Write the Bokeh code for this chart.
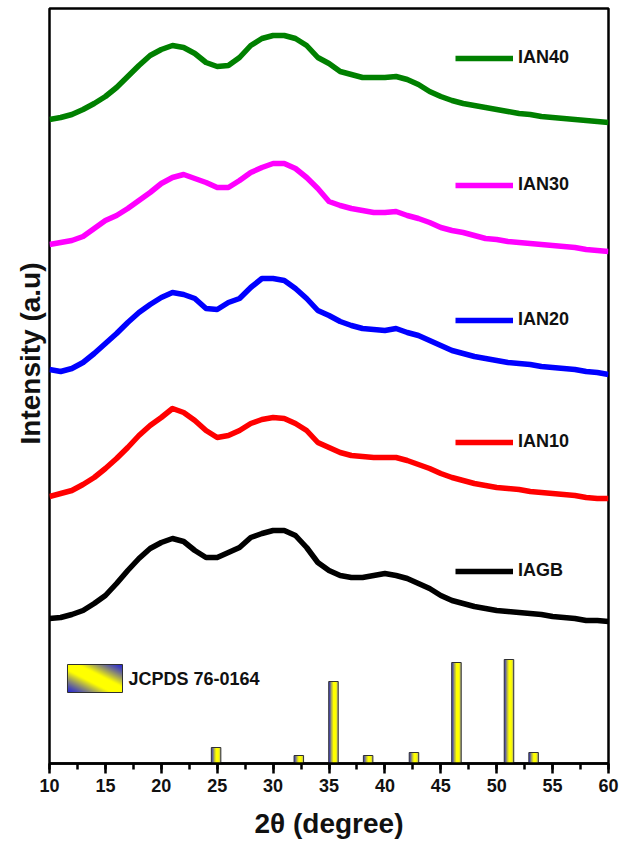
import numpy as np
from bokeh.plotting import figure
from bokeh.models import (Range1d, SingleIntervalTicker, Legend, LegendItem, Label, Title)
from bokeh.embed import file_html
from bokeh.resources import INLINE

# ---------------- data ----------------
two_theta = list(range(10, 61))

iagb = [145, 146, 149, 153, 160, 168, 180, 193, 205, 215, 221, 225, 222, 213, 206, 206,
        211, 216, 226, 230, 233, 233, 228, 216, 201, 193, 188, 186, 186, 188, 190, 188,
        185, 180, 175, 168, 163, 160, 157, 155, 153, 152, 151, 150, 149, 147, 146, 145,
        143, 143, 142]
ian10 = [267, 270, 273, 279, 286, 295, 305, 316, 328, 338, 346, 355, 351, 343, 333, 326,
         328, 333, 340, 344, 346, 345, 340, 333, 321, 316, 311, 308, 307, 306, 306, 306,
         303, 299, 295, 290, 286, 283, 280, 278, 276, 275, 274, 272, 271, 270, 269, 268,
         266, 265, 265]
ian20 = [394, 392, 395, 401, 410, 420, 430, 441, 451, 459, 466, 471, 469, 465, 455, 454,
         461, 465, 476, 485, 485, 483, 475, 465, 453, 448, 442, 438, 435, 434, 433, 435,
         431, 428, 423, 418, 413, 410, 407, 405, 403, 401, 400, 399, 397, 396, 395, 394,
         392, 391, 389]
ian30 = [519, 521, 523, 527, 535, 543, 548, 555, 563, 571, 580, 586, 589, 585, 581, 576,
         576, 583, 591, 596, 600, 600, 595, 586, 575, 562, 558, 555, 553, 551, 551, 552,
         548, 545, 541, 536, 533, 531, 528, 525, 524, 522, 521, 520, 519, 518, 517, 516,
         514, 513, 512]
ian40 = [644, 646, 649, 654, 660, 667, 676, 687, 698, 708, 714, 718, 716, 710, 701, 697,
         698, 706, 718, 725, 728, 728, 725, 718, 706, 700, 692, 689, 686, 686, 686, 687,
         684, 679, 672, 667, 663, 660, 658, 656, 654, 652, 650, 649, 647, 646, 645, 644,
         643, 642, 641]

series_names = ["IAGB", "IAN10", "IAN20", "IAN30", "IAN40"]
series_values = [iagb, ian10, ian20, ian30, ian40]
series_colors = ["#000000", "#ff0000", "#0000ff", "#ff00ff", "#008000"]

jcpds_pos = [24.9, 32.3, 35.4, 38.5, 42.6, 46.4, 51.1, 53.3]
jcpds_int = [16, 8, 82, 8, 11, 101, 104, 11]
jcpds_label = "JCPDS 76-0164"

x_ticks_interval = 5

# ---------------- styling ----------------
FONT = "Liberation Sans"
BLUE = np.array([40, 40, 215], dtype=float)
YEL = np.array([255, 255, 0], dtype=float)
GREY_BLUE = np.array([130, 130, 200], dtype=float)


def to_rgba(arr):
    h, w, _ = arr.shape
    out = np.empty((h, w), dtype=np.uint32)
    view = out.view(dtype=np.uint8).reshape((h, w, 4))
    view[:, :, :3] = np.clip(arr, 0, 255).astype(np.uint8)
    view[:, :, 3] = 255
    return out


def bar_gradient(ncols=24):
    u = (np.arange(ncols) + 0.5) / ncols
    cols = np.zeros((1, ncols, 3))
    for i, t in enumerate(u):
        if t < 0.45:
            f = t / 0.45
            c = BLUE * (1 - f) + YEL * f
        elif t < 0.72:
            c = YEL
        else:
            f = (t - 0.72) / 0.28
            c = YEL * (1 - f) + GREY_BLUE * f
        cols[0, i] = c
    return to_rgba(cols)


def swatch_gradient(nx=55, ny=28):
    u = (np.arange(nx) + 0.5) / nx
    v = (np.arange(ny) + 0.5) / ny
    U, V = np.meshgrid(u, v)
    t = (U + V) / 2.0
    w = 1 - np.abs(2 * t - 1)
    w = np.clip(w * 1.25, 0, 1) ** 1.3
    arr = BLUE[None, None, :] * (1 - w[..., None]) + YEL[None, None, :] * w[..., None]
    return to_rgba(arr)


p = figure(width=619, height=845, x_range=Range1d(10, 60), y_range=Range1d(0, 755),
           output_backend="svg", toolbar_location=None,
           min_border_left=49, min_border_right=11, min_border_top=8,
           min_border_bottom=82)
p.background_fill_color = "white"
p.border_fill_color = "white"
p.grid.visible = False
p.outline_line_color = "black"
p.outline_line_width = 2.5

# curves
renderers = []
for name, vals, col in zip(series_names, series_values, series_colors):
    r = p.line(two_theta, vals, line_color=col, line_width=5.5, line_join="round")
    renderers.append(r)

# JCPDS bars with gradient fill
bw = 0.85
grad = bar_gradient()
p.image_rgba(image=[grad] * len(jcpds_pos),
             x=[c - bw / 2 for c in jcpds_pos], y=[0] * len(jcpds_pos),
             dw=[bw] * len(jcpds_pos), dh=jcpds_int)
p.vbar(x=jcpds_pos, top=jcpds_int, bottom=0, width=bw, fill_alpha=0,
       line_color="#303030", line_width=1)

# JCPDS legend swatch (legend placement)
sw_x0, sw_x1, sw_y0, sw_y1 = 11.61, 16.53, 71, 99
p.image_rgba(image=[swatch_gradient()], x=sw_x0, y=sw_y0, dw=sw_x1 - sw_x0, dh=sw_y1 - sw_y0)
p.quad(left=sw_x0, right=sw_x1, bottom=sw_y0, top=sw_y1, fill_alpha=0,
       line_color="#303030", line_width=1)
p.add_layout(Label(x=17.07, y=85, text=jcpds_label, text_font=FONT,
                   text_font_style="bold", text_font_size="18px",
                   text_baseline="middle", text_align="left", text_color="#111111"))

# series legends, one per curve
legend_y = [182, 311, 433, 568, 695]
for name, r, ly in zip(series_names, renderers, legend_y):
    leg = Legend(items=[LegendItem(label=name, renderers=[r])], location=(406, ly),
                 glyph_width=58, glyph_height=20, label_height=20, label_standoff=5,
                 padding=0, margin=0, spacing=0, border_line_color=None,
                 background_fill_alpha=0, label_text_font=FONT,
                 label_text_font_style="bold", label_text_font_size="18px",
                 label_text_color="#111111")
    p.add_layout(leg, "center")

# x axis
xa = p.xaxis[0]
xa.ticker = SingleIntervalTicker(interval=x_ticks_interval, num_minor_ticks=2)
xa.axis_label = "2\u03b8 (degree)"
xa.axis_label_text_font = FONT
xa.axis_label_text_font_style = "bold"
xa.axis_label_text_font_size = "28px"
xa.axis_label_text_color = "#111111"
xa.axis_label_standoff = 13
xa.major_label_text_font = FONT
xa.major_label_text_font_style = "bold"
xa.major_label_text_font_size = "18px"
xa.major_label_text_color = "#111111"
xa.major_label_standoff = 5
xa.axis_line_width = 2.5
xa.major_tick_in = 0
xa.major_tick_out = 10
xa.minor_tick_in = 0
xa.minor_tick_out = 6
xa.major_tick_line_width = 2.5
xa.minor_tick_line_width = 2.5

# y axis: no ticks; its title set in the left panel, raised like the reference
p.yaxis.visible = False
p.add_layout(Title(text="Intensity (a.u)", align="left", offset=319,
                   text_font=FONT, text_font_style="bold", text_font_size="28px",
                   text_color="#111111", standoff=8), "left")

open("out.html", "w").write(file_html(p, INLINE))
